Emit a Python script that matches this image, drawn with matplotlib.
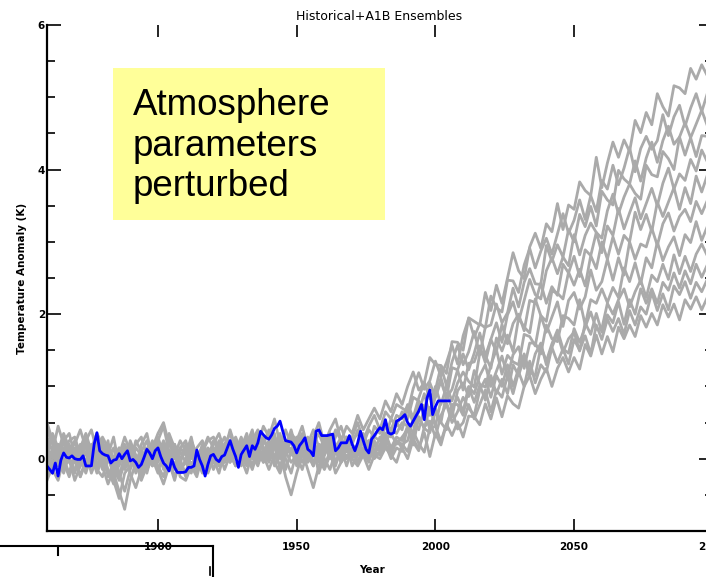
import numpy as np
import matplotlib.pyplot as plt
from matplotlib.lines import Line2D
from matplotlib.patches import Rectangle

# observed record (K), one value per year 1860-2005
obs_years = list(range(1860, 2006))
obs = [
    -0.10, -0.15, -0.20, -0.06, -0.24, -0.02, 0.08, 0.02, 0.01, 0.04,
    0.00, -0.01, -0.01, 0.04, -0.10, -0.10, -0.10, 0.20, 0.36, 0.11,
    0.07, 0.05, 0.04, -0.06, -0.02, -0.01, 0.07, 0.00, 0.06, 0.11,
    -0.03, -0.01, -0.05, -0.12, -0.08, 0.02, 0.13, 0.08, 0.00, 0.11,
    0.15, 0.03, -0.06, -0.10, -0.17, -0.01, -0.12, -0.19, -0.19, -0.19,
    -0.18, -0.12, -0.12, -0.10, 0.12, -0.01, -0.10, -0.24, -0.08, 0.04,
    0.06, -0.01, -0.04, 0.03, 0.05, 0.15, 0.25, 0.13, 0.03, -0.12,
    0.06, 0.12, 0.18, 0.03, 0.18, 0.13, 0.22, 0.38, 0.33, 0.29,
    0.27, 0.33, 0.42, 0.45, 0.52, 0.38, 0.25, 0.24, 0.23, 0.18,
    0.08, 0.18, 0.23, 0.29, 0.13, 0.10, 0.04, 0.38, 0.40, 0.32,
    0.32, 0.32, 0.33, 0.34, 0.11, 0.15, 0.22, 0.22, 0.22, 0.32,
    0.20, 0.11, 0.22, 0.38, 0.25, 0.13, 0.08, 0.27, 0.32, 0.38,
    0.43, 0.40, 0.54, 0.36, 0.34, 0.36, 0.52, 0.54, 0.57, 0.61,
    0.50, 0.45, 0.52, 0.59, 0.66, 0.75, 0.54, 0.84, 0.95, 0.61,
    0.72, 0.80, 0.80, 0.80, 0.80, 0.80,
]

# ensemble members, every 2nd year 1860-2100, hundredths of a K
run_years = list(range(1860, 2101, 2))
run_a = [30, 10, 45, 20, 5, 15, -10, 25, 40, 10, -5, 20, -20, 5, 30, 10, -15, 20, 35, 0,
         25, 45, 10, -10, 15, 5, 30, -5, 20, 0, 20, 35, 10, 40, 15, 25, 5, 35, 20, 45,
         30, 55, 20, 10, 35, 25, 45, 15, 30, 50, 20, 40, 55, 25, 45, 35, 60, 40, 55, 70,
         55, 80, 65, 90, 75,
         100, 120, 95, 105, 140, 130, 129, 118, 162, 161, 150, 195, 190, 185, 230,
         205, 240, 215, 250, 285, 260, 249, 293, 312, 291, 325, 314, 353, 317, 351,
         345, 383, 371, 364, 417, 375, 409, 438, 417, 441, 425, 468, 451, 479, 462,
         505, 487, 474, 516, 513, 505, 540, 525, 545, 530, 540]
run_b = [-10, 15, 0, 25, 35, 5, 20, -15, 10, 0, 15, -25, -5, 10, -10, 20, 0, -20, 5, 25,
         0, 15, -15, 10, -5, -20, 10, 0, -10, 15, 5, 25, 0, 15, 30, 10, 20, 40, 5, 25,
         15, 35, 0, 20, 10, 30, 5, 20, 40, 15, 25, 10, 30, 45, 20, 30, 50, 25, 45, 60,
         40, 65, 55, 75, 70,
         65, 97, 119, 96, 108, 135, 114, 133, 157, 131, 170, 194, 168, 187, 181,
         225, 209, 203, 247, 246, 230, 268, 291, 264, 287, 305, 283, 311, 339, 312,
         330, 358, 331, 364, 342, 385, 373, 406, 379, 402, 430, 397, 429, 446, 428,
         440, 476, 447, 473, 489, 460, 485, 505, 480, 505, 495]
run_c = [15, -20, 5, 30, -5, -15, 10, 30, 5, -20, 0, 25, -30, -55, -20, -10, 15, 5, -20, 10,
         30, 5, -10, 20, 0, 10, -15, 15, 25, 5, -5, 15, 30, 10, 0, 20, -5, 15, 30, 10,
         25, 0, 30, 15, 40, 10, 25, 0, 20, 35, 15, 35, 20, 5, 30, 20, 40, 30, 15, 45,
         35, 50, 40, 60, 55,
         75, 57, 84, 106, 83, 95, 128, 101, 134, 157, 130, 148, 176, 144, 182,
         185, 214, 188, 202, 236, 210, 244, 263, 242, 241, 295, 273, 296, 279, 317,
         300, 338, 321, 349, 322, 370, 358, 351, 399, 387, 380, 412, 384, 416, 438,
         410, 440, 460, 435, 445, 465, 444, 463, 482, 461, 470]
run_d = [40, 20, -5, 10, 25, 30, 5, -10, 15, 35, 20, 5, 30, -10, 15, -5, 25, 10, -15, 5,
         15, -10, 25, 5, -20, 0, 20, -5, 10, 30, 15, 0, 20, 35, 10, 0, 25, 10, 35, 20,
         40, 15, 25, 5, 30, 20, 35, 10, 25, 5, 30, 15, 40, 25, 10, 25, 35, 20, 40, 30,
         45, 30, 55, 45, 65,
         55, 85, 80, 65, 105, 85, 107, 84, 126, 123, 145, 123, 146, 174, 142,
         165, 188, 161, 199, 217, 190, 219, 248, 227, 221, 260, 278, 256, 279, 267,
         310, 282, 309, 326, 313, 305, 343, 366, 339, 362, 380, 367, 359, 406, 393,
         390, 425, 415, 400, 445, 420, 444, 418, 447, 446, 440]
run_e = [-25, 0, 20, -15, 10, 25, 0, -20, 5, 20, -10, -35, -15, 15, 0, 10, -20, 0, 15, -10,
         5, 25, 0, -25, -5, 15, -10, -25, 5, -5, 10, -10, 5, 20, 0, 15, 30, 5, -10, 15,
         5, 20, -15, 10, 25, 0, 15, 30, 10, -5, 20, 0, 15, 30, 10, 5, 20, 35, 15, 30,
         25, 45, 30, 50, 40,
         70, 50, 65, 90, 60, 85, 112, 84, 96, 123, 95, 132, 134, 156, 133,
         165, 148, 186, 159, 187, 200, 177, 219, 216, 243, 215, 238, 226, 269, 257,
         280, 252, 289, 281, 313, 285, 322, 309, 346, 318, 340, 361, 332, 353, 374,
         350, 381, 402, 373, 394, 385, 414, 398, 427, 411, 420]
run_f = [5, 35, 15, -10, 20, -5, 15, 35, 10, -15, 25, 0, -20, -45, -70, -30, -5, 15, -15, 0,
         -20, 10, 30, 0, 15, 25, 0, 10, -15, 0, 25, 10, -5, 15, 25, -5, 10, 25, 15, 0,
         20, -10, 10, 25, 5, 15, 30, 5, -10, 20, 5, 25, 10, 20, 0, 15, 5, 25, 20, 10,
         30, 20, 40, 35, 50,
         45, 36, 77, 73, 64, 100, 75, 100, 80, 105, 120, 107, 99, 146, 143,
         125, 167, 149, 171, 148, 195, 182, 174, 221, 198, 190, 232, 229, 221, 258,
         240, 262, 239, 281, 263, 300, 276, 307, 283, 309, 300, 341, 317, 338, 314,
         355, 335, 355, 375, 345, 375, 353, 391, 369, 392, 380]
run_g = [20, -15, -30, 0, -20, 10, -25, 0, -5, 15, -15, 10, -5, -25, 5, 15, -5, -30, -10, 10,
         -10, -25, 5, 20, -15, -5, 15, 0, -20, 10, -15, 5, -5, 10, -10, 5, -10, 20, 0, 10,
         -5, 15, 35, 0, -20, 10, -5, 15, 25, 0, -15, 5, 20, -5, 15, 10, -5, 15, 25, 5,
         20, 35, 15, 30, 25,
         45, 24, 58, 42, 71, 45, 81, 77, 58, 94, 105, 86, 122, 103, 99,
         130, 151, 117, 143, 134, 130, 172, 169, 156, 198, 175, 196, 217, 183, 219,
         230, 207, 224, 261, 233, 245, 276, 247, 278, 254, 300, 276, 297, 293, 319,
         295, 325, 340, 315, 335, 345, 328, 356, 339, 357, 350]
run_h = [50, 25, 10, 35, 15, 20, 40, 15, -5, 25, 5, 20, 0, 15, -15, 0, 20, 30, 5, 15,
         35, 50, 20, 5, 25, 10, 25, 5, 15, -10, 5, 20, 10, -5, 15, 20, 5, 25, 40, 15,
         0, 25, 10, -25, -50, -20, 5, 15, -10, 10, 25, 5, -10, 15, 30, 0, 20, 10, -5, 20,
         15, 30, 10, 25, 20,
         25, 55, 40, 70, 40, 70, 50, 90, 70, 85, 65, 100, 90, 115, 130,
         100, 121, 142, 113, 144, 155, 125, 160, 160, 145, 185, 166, 162, 198, 194,
         185, 220, 185, 220, 215, 235, 216, 237, 223, 264, 245, 271, 242, 278, 264,
         300, 274, 293, 307, 281, 310, 299, 328, 302, 321, 325]
run_i = [-15, 10, -10, 15, 0, -30, -10, 10, -20, 0, 10, -15, -35, -5, 10, -20, -40, -15, 5, -10,
         10, -15, -5, -30, 0, -25, -5, -15, 5, -20, 0, -20, 10, -5, 15, -10, 5, -15, 10, -5,
         15, -5, -20, 5, 15, -10, 10, -5, 5, 20, 0, -15, 10, -5, 20, -10, 5, 15, 0, 10,
         5, 20, 0, 15, 10,
         45, 23, 11, 44, 52, 30, 60, 75, 50, 65, 85, 70, 60, 95, 110,
         85, 115, 100, 130, 100, 125, 145, 120, 115, 155, 135, 159, 178, 152, 146,
         180, 161, 182, 203, 179, 180, 215, 200, 220, 235, 210, 231, 247, 223, 254,
         245, 269, 248, 282, 256, 280, 259, 283, 297, 281, 290]
run_j = [10, 30, 0, -20, 5, 15, -5, 25, -10, 5, 30, 15, -10, 5, 20, 5, -15, 10, 25, -5,
         20, 0, 35, 15, -5, 20, 5, -10, 10, 25, 30, 15, 0, 25, 5, 15, 35, 0, 20, 30,
         10, 30, 15, 40, 20, 25, 10, -15, -40, -10, 10, 30, 15, 0, 20, 20, 10, 30, 5, 25,
         10, 25, 35, 20, 30,
         40, 19, 58, 42, 36, 65, 50, 40, 75, 75, 60, 99, 78, 102, 81,
         115, 90, 110, 90, 130, 115, 140, 115, 145, 160, 130, 154, 173, 147, 166,
         175, 149, 188, 172, 201, 175, 199, 188, 217, 186, 220, 200, 235, 215, 235,
         215, 244, 233, 257, 236, 260, 242, 269, 251, 268, 260]
run_k = [-30, -10, 15, -5, -25, 0, -25, -5, 10, -15, -25, 0, 15, -20, -45, -15, 5, -25, -5, 15,
         -15, -35, -10, 10, -25, -30, -10, -20, 0, -15, -5, 10, -15, 5, -10, 0, -20, 10, -5, 5,
         -15, 5, -10, 10, -5, 5, -15, 10, -5, 15, -10, 10, -20, -5, 5, 0, -10, 5, -15, 5,
         0, 15, 5, -5, 20,
         10, 38, 21, 9, 42, 45, 24, 48, 67, 41, 50, 75, 55, 75, 95,
         65, 95, 85, 115, 90, 120, 100, 135, 105, 130, 120, 154, 133, 152, 131,
         165, 150, 170, 145, 185, 165, 193, 176, 194, 172, 205, 185, 210, 200, 230,
         205, 228, 206, 239, 227, 245, 222, 244, 231, 248, 240]
run_l = [0, -20, 10, 25, 0, -20, 5, -5, 20, -10, 5, 15, -10, -30, -5, 25, 5, -15, 0, 20,
         -5, 20, 5, -15, 10, -5, -20, 10, -10, 5, 15, -10, 20, 0, 10, 30, 10, -10, 20, -5,
         10, 0, 25, -15, 10, -5, 20, 5, 15, -20, 5, 25, -5, 15, -10, 15, -5, 10, 25, 0,
         10, 20, 5, 25, 15,
         0, 27, 14, 36, 3, 35, 19, 48, 32, 51, 30, 59, 58, 47, 76,
         55, 84, 58, 87, 76, 70, 100, 115, 90, 110, 125, 100, 125, 140, 120,
         140, 124, 158, 142, 171, 145, 169, 148, 182, 166, 185, 169, 198, 182, 201,
         185, 213, 196, 214, 192, 220, 207, 224, 206, 223, 220]
runs = [run_a, run_b, run_c, run_d, run_e, run_f, run_g, run_h, run_i, run_j, run_k, run_l]

W, H = 706, 577
fig = plt.figure(figsize=(W / 100, H / 100), dpi=100)
ax = fig.add_axes([47 / W, 46 / H, 665.8 / W, 506 / H])

for r in runs:
    ax.plot(run_years, np.array(r) / 100.0, color='#aaaaaa', lw=2.0)
ax.plot(obs_years, obs, color='#0000ff', lw=2.0)

ax.set_xlim(1860, 2100)
ax.set_ylim(-1, 6)
ax.spines['top'].set_visible(False)
ax.spines['right'].set_visible(False)
ax.spines['left'].set_linewidth(1.6)
ax.spines['bottom'].set_linewidth(1.6)

ax.set_xticks([1900, 1950, 2000, 2050, 2100])
ax.set_xticklabels(['1900', '1950', '2000', '2050', '2100'])
ax.set_yticks([0, 2, 4, 6])
ax.set_yticks(np.arange(-0.5, 6.0, 0.5), minor=True)
ax.tick_params(axis='both', which='both', direction='in', top=True, right=True)
ax.tick_params(axis='x', length=8.5, width=1.2, labelsize=7.5, pad=8)
ax.tick_params(axis='y', which='major', length=10, width=1.2, labelsize=7.5, pad=1.5)
ax.tick_params(axis='y', which='minor', length=6, width=1.2)
for lbl in ax.get_xticklabels() + ax.get_yticklabels():
    lbl.set_fontweight('bold')

fig.text(379 / W, 1 - 16 / H, 'Historical+A1B Ensembles', ha='center', va='center', fontsize=9)
fig.text(22 / W, 1 - 278 / H, 'Temperature Anomaly (K)', rotation=90, ha='center', va='center',
         fontsize=7.5, fontweight='bold')
fig.text(372 / W, 1 - 570 / H, 'Year', ha='center', va='center', fontsize=7.5, fontweight='bold')

# yellow note box
fig.add_artist(Rectangle((113 / W, 1 - 220 / H), 272 / W, 152 / H, transform=fig.transFigure,
                         facecolor='#ffff99', edgecolor='none'))
fig.text(133 / W, 1 - 146 / H, 'Atmosphere\nparameters\nperturbed', ha='left', va='center',
         fontsize=26.5, family='Liberation Sans', linespacing=1.22)

# stray axis fragment at the bottom left
ys = 1 - 545.7 / H
fig.add_artist(Line2D([0, 213 / W], [ys, ys], transform=fig.transFigure, color='k', lw=1.5))
fig.add_artist(Line2D([58 / W, 58 / W], [ys, 1 - 555 / H], transform=fig.transFigure, color='k', lw=1.5))
fig.add_artist(Line2D([213 / W, 213 / W], [ys, 0], transform=fig.transFigure, color='k', lw=1.5))
fig.add_artist(Line2D([210 / W, 210 / W], [1 - 567 / H, 1 - 575 / H], transform=fig.transFigure,
                      color='k', lw=1.2))

plt.savefig('out.png', dpi=100)
